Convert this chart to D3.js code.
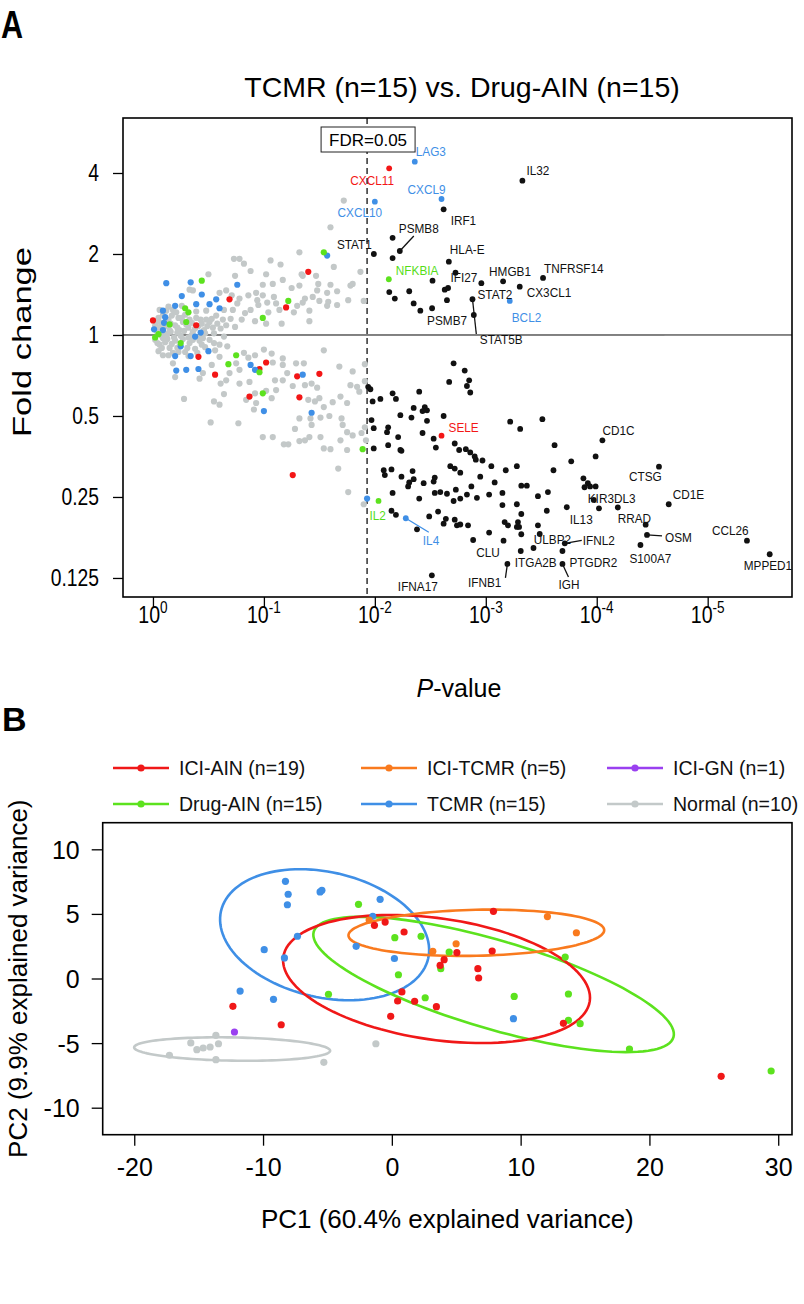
<!DOCTYPE html>
<html><head><meta charset="utf-8">
<script src="https://cdn.jsdelivr.net/npm/d3@7"></script>
<style>body{margin:0;background:#fff}</style>
</head><body><svg id="c" width="804" height="1304" xmlns="http://www.w3.org/2000/svg"></svg>
<script>
// ================= DATA: Panel A (volcano) — x = -log10(P), y = log2(fold change) =================
const fcTickVals = [2, 1, 0, -1, -2, -3];
const fcTickLabels = ["4", "2", "1", "0.5", "0.25", "0.125"];
const pTickExps = [0, -1, -2, -3, -4, -5];
const fdrNlp = 1.93;          // FDR = 0.05 threshold in -log10(P)
const hlineGrayEnd = 4.61;

const grayA = [
[1.72,1.66],[1.60,1.33],[1.32,1.02],[0.73,0.94],[0.78,0.94],[0.82,0.88],[1.06,0.92],[1.15,0.87],[1.63,0.84],[1.87,0.78],
[0.50,0.75],[0.74,0.73],[0.88,0.79],[1.02,0.75],[1.17,0.68],[1.34,0.75],[1.35,0.73],[1.47,0.73],[1.49,0.63],[1.60,0.62],
[1.32,0.61],[1.25,0.58],[0.99,0.62],[1.08,0.63],[1.78,0.61],[1.80,0.63],[1.48,0.55],[1.57,0.52],[1.66,0.54],[1.90,0.42],
[1.76,0.43],[1.66,0.37],[1.58,0.41],[1.57,0.36],[1.44,0.47],[1.50,0.42],[1.37,0.45],[1.35,0.40],[1.41,0.30],[1.41,0.17],
[1.27,0.28],[1.30,0.36],[1.14,0.31],[1.11,0.39],[1.03,0.40],[1.04,0.28],[0.95,0.37],[0.88,0.31],[0.80,0.19],[0.72,0.31],
[0.66,0.55],[0.60,0.52],[0.93,0.52],[0.86,0.49],[0.99,0.49],[1.09,0.47],[0.71,0.49],[0.78,0.45],[0.94,0.43],[0.76,0.39],
[0.64,0.31],[0.57,0.24],[0.48,0.30],[0.39,0.29],[0.18,0.31],[0.14,0.35],[0.33,0.56],[0.36,0.55],[0.48,0.19],[0.63,0.19],
[0.83,0.27],[0.92,0.17],[1.02,0.14],[1.16,0.14],[0.74,0.10],[0.55,0.02],[0.64,-0.02],
[0.02,0.12],[0.05,0.21],[0.06,0.09],[0.09,0.25],[0.11,0.11],[0.14,0.19],[0.15,0.06],[0.17,0.24],[0.20,0.12],[0.23,0.21],
[0.24,0.06],[0.27,0.16],[0.29,0.25],[0.32,0.09],[0.33,0.19],[0.36,0.04],[0.39,0.21],[0.41,0.11],[0.43,0.19],[0.46,0.06],
[0.49,0.11],[0.51,0.16],[0.54,0.09],[0.58,0.14],[0.04,0.03],[0.08,-0.01],[0.13,0.01],[0.19,-0.03],[0.25,-0.01],[0.32,-0.03],
[0.41,-0.03],[0.21,0.28],[0.26,0.36],[0.06,0.31],
[0.03,0.17],[0.07,0.15],[0.12,0.30],[0.16,0.14],[0.22,0.09],[0.26,0.21],[0.30,0.13],[0.35,0.15],[0.38,0.08],[0.44,0.14],
[0.10,0.02],[0.16,0.04],[0.22,0.03],[0.28,0.05],[0.35,0.00],[0.47,0.02],[0.53,0.20],[0.61,0.08],[0.66,0.12],[0.70,0.20],
[0.02,-0.06],[0.06,-0.12],[0.11,-0.09],[0.15,-0.16],[0.20,-0.07],[0.24,-0.14],[0.29,-0.21],[0.33,-0.10],[0.38,-0.17],[0.42,-0.07],
[0.47,-0.15],[0.51,-0.06],[0.05,-0.20],[0.14,-0.25],[0.23,-0.21],[0.32,-0.26],[0.09,-0.04],[0.18,-0.22],[0.56,-0.19],[0.60,-0.12],
[0.04,-0.10],[0.08,-0.16],[0.13,-0.05],[0.17,-0.11],[0.22,-0.16],[0.27,-0.05],[0.31,-0.16],[0.36,-0.06],[0.40,-0.22],[0.45,-0.04],
[0.28,-0.79],[0.52,-1.08],[0.77,-1.09],[0.55,-0.82],[0.60,-0.86],[0.64,-0.73],[0.61,-0.60],[0.20,-0.52],[0.09,-0.25],[0.18,-0.35],
[0.44,-0.12],[0.55,-0.10],[0.67,-0.14],[0.60,-0.27],[0.53,-0.37],[0.45,-0.47],[0.42,-0.54],[0.69,-0.47],[0.66,-0.56],[0.82,-0.22],
[0.86,-0.28],[0.92,-0.25],[1.00,-0.18],[1.07,-0.23],[1.08,-0.34],[1.17,-0.29],[1.17,-0.37],[1.21,-0.47],[1.29,-0.35],[1.36,-0.35],
[1.54,-0.19],[1.68,-0.39],[1.80,-0.45],[1.91,-0.36],[1.91,-0.57],[1.78,-0.62],[1.84,-0.64],[1.86,-0.70],[1.75,-0.84],[1.69,-0.76],
[1.62,-0.83],[1.54,-0.89],[1.46,-0.82],[1.50,-0.78],[1.40,-0.80],[1.43,-0.60],[1.48,-0.65],[1.37,-0.62],[1.26,-0.63],[1.17,-0.56],
[1.10,-0.56],[1.11,-0.68],[1.07,-0.78],[1.02,-0.69],[0.92,-0.72],[0.93,-0.84],[0.91,-0.92],[0.84,-0.80],[0.78,-0.60],[0.87,-0.58],
[0.78,-0.43],[0.75,-0.35],[1.32,-1.03],[1.42,-1.03],[1.43,-1.11],[1.51,-1.02],[1.59,-1.00],[1.70,-1.03],[1.71,-1.11],[1.75,-1.20],
[1.80,-1.24],[1.88,-1.21],[1.91,-1.14],[1.92,-1.30],[1.69,-1.30],[1.51,-1.26],[1.41,-1.26],[1.37,-1.30],[1.32,-1.31],[1.18,-1.35],
[1.22,-1.35],[1.28,-1.16],[1.08,-1.26],[0.99,-1.26],[1.54,-1.40],[1.60,-1.41],[1.75,-1.42],[1.67,-1.65],[1.76,-1.94],[1.90,-2.09]
];
const blackA = [
[2.16,1.20],[2.16,0.95],[2.52,0.67],[2.31,0.54],[2.13,0.53],[2.18,0.45],[2.35,0.39],[2.41,0.30],[2.63,0.56],[2.66,0.58],[2.65,0.43],[2.96,0.64],
[2.71,-0.35],[2.81,-0.44],[2.67,-0.58],[2.85,-0.56],[2.83,-0.63],[2.86,-0.71],[2.40,-0.70],[2.16,-0.72],[2.19,-0.79],[2.05,-0.79],[1.98,-0.82],[1.96,-0.67],[1.94,-0.64],
[2.35,-0.90],[2.45,-0.89],[2.47,-0.93],[2.43,-0.94],[2.33,-1.02],[2.23,-0.99],[1.97,-1.05],[2.47,-1.06],[2.62,-1.00],[1.99,-1.15],[2.12,-1.14],[2.11,-1.20],[2.43,-1.21],[2.53,-1.28],[2.55,-1.39],[2.21,-1.26],[2.12,-1.36],[2.23,-1.42],[2.24,-1.43],[1.99,-1.40],
[2.72,-1.34],[2.76,-1.42],[2.82,-1.41],[2.86,-1.45],[2.90,-1.50],[2.91,-1.54],[2.97,-1.55],[3.05,-1.62],[3.18,-1.67],[3.28,-1.62],[3.22,-1.07],[3.31,-1.16],[3.51,-1.04],[3.62,-1.36],[3.77,-1.56],[3.61,-1.67],[3.99,-1.50],
[2.68,-1.62],[2.72,-1.65],[2.77,-1.70],[2.34,-1.68],[2.08,-1.67],[2.09,-1.73],[2.15,-1.66],[2.24,-1.75],[2.35,-1.78],[2.31,-1.82],[2.30,-1.87],[2.44,-1.83],[2.53,-1.81],[2.54,-1.76],[2.54,-1.95],[2.59,-1.94],[2.65,-1.96],[2.73,-1.91],[2.71,-2.05],[2.77,-2.02],[2.83,-1.97],[2.87,-1.87],[3.08,-1.82],[2.95,-1.75],[3.03,-1.97],[2.92,-2.01],[3.15,-1.95],[3.15,-2.10],[3.28,-2.09],[3.32,-1.86],[3.37,-1.86],[3.47,-1.99],[3.56,-1.94],[3.32,-2.21],[3.55,-2.17],[3.88,-1.77],[3.92,-1.83],[3.89,-1.88],[3.94,-1.87],[3.99,-1.87],[4.02,-2.14],[4.19,-2.13],
[2.16,-1.95],[2.40,-2.02],[2.15,-2.17],[2.19,-2.22],[2.38,-2.40],[2.49,-2.24],[2.57,-2.18],[2.64,-2.27],[2.62,-2.33],[2.72,-2.28],[2.74,-2.35],[2.77,-2.34],[2.84,-2.35],[3.03,-2.44],[3.16,-2.54],[3.17,-2.31],[3.20,-2.35],[3.29,-2.31],[3.28,-2.37],[3.30,-2.37],[3.32,-2.46],[3.47,-2.35],[3.43,-2.63]
];
const redA = [[1.40,0.78],[1.20,0.34],[0.69,0.44],[0.00,0.18],[0.39,0.12],[0.41,-0.27],[0.56,-0.49],[0.87,-0.76],[1.02,-0.34],[0.96,-0.42],[1.30,-0.51],[1.32,-0.77],[1.50,-0.48],[1.26,-1.73]];
const blueA = [[1.57,0.98],[0.34,0.65],[0.12,0.64],[0.76,0.62],[0.26,0.48],[0.20,0.36],[0.39,0.38],[0.44,0.50],[0.51,0.38],[0.57,0.44],[0.60,0.33],[0.09,0.30],[0.11,0.22],[0.10,0.15],[0.01,0.07],[0.09,0.06],[0.38,-0.02],[0.43,0.03],[0.20,-0.26],[0.34,-0.26],[0.21,-0.44],[0.30,-0.43],[0.41,-0.42],[0.50,-0.20],[0.88,-0.37],[0.92,-0.43],[1.00,-0.94],[1.35,-0.49],[1.43,-0.96],[1.93,-2.02],[0.25,-0.14]];
const greenA = [[1.54,1.02],[1.22,0.42],[0.99,0.21],[0.44,0.67],[0.29,0.33],[0.32,0.28],[0.15,0.13],[0.30,0.16],[0.05,0.01],[0.02,-0.03],[0.25,-0.10],[0.75,-0.25],[0.68,-0.36],[0.96,-0.46],[0.99,-0.72],[1.89,-1.41]];

const geneNames = ["IL32","IRF1","PSMB8","STAT1","HLA-E","IFI27","HMGB1","TNFRSF14","CX3CL1","STAT2","STAT5B","PSMB7","BCL2","LAG3","CXCL11","CXCL9","CXCL10","NFKBIA","SELE","IL2","IL4","CD1C","CTSG","CD1E","KIR3DL3","IL13","RRAD","OSM","S100A7","CCL26","MPPED1","ULBP2","IFNL2","CLU","ITGA2B","IFNB1","PTGDR2","IGH","IFNA17"];
const geneGroup = ["sig","sig","sig","sig","sig","sig","sig","sig","sig","sig","sig","sig","blue","blue","red","blue","blue","green","red","green","blue","sig","sig","sig","sig","sig","sig","sig","sig","sig","sig","sig","sig","sig","sig","sig","sig","sig","sig"];
const geneNlp = [3.33,2.62,2.225,1.991,2.667,2.727,3.156,3.516,3.306,2.88,2.892,2.516,3.216,2.36,2.129,2.601,2.0,2.126,2.601,2.033,2.279,4.051,4.561,4.649,3.973,3.73,4.441,4.453,4.394,5.354,5.559,3.486,3.712,2.886,3.315,3.195,3.691,3.691,2.514];
const geneLog2FC = [1.905,1.552,1.037,1.0,0.905,0.769,0.663,0.704,0.596,0.441,0.247,0.33,0.42,2.14,2.058,1.679,1.646,0.688,-1.243,-2.049,-2.263,-1.3,-1.626,-2.09,-2.037,-2.127,-2.342,-2.469,-2.593,-2.54,-2.707,-2.457,-2.572,-2.531,-2.667,-2.827,-2.667,-2.827,-2.967];

// ================= DATA: Panel B (PCA) — [PC1, PC2] =================
const pcaGroups = ["ICI-AIN (n=19)","ICI-TCMR (n=5)","ICI-GN (n=1)","Drug-AIN (n=15)","TCMR (n=15)","Normal (n=10)"];
const pcaNormal = [[-13.66,-4.40],[-15.61,-4.99],[-15.14,-5.51],[-14.11,-5.30],[-13.46,-5.05],[-17.27,-5.94],[-13.66,-6.28],[-5.28,-6.49],[-1.24,-5.05],[-14.65,-5.38]];
const pcaGN = [[-12.22,-4.14]];
const pcaTCMR = [[-8.26,7.52],[-8.05,6.52],[-8.11,5.71],[-5.57,6.70],[-5.43,6.83],[-0.91,6.13],[-1.48,4.81],[-7.33,3.27],[-9.91,2.23],[-8.34,1.59],[-2.77,2.49],[0.20,1.55],[-11.78,-0.97],[-9.19,-1.61],[9.44,-3.11]];
const pcaDrug = [[-2.59,5.74],[0.23,3.16],[2.27,3.27],[4.45,2.05],[3.80,0.76],[0.51,0.29],[2.59,-1.49],[9.50,-1.39],[13.71,-1.20],[13.46,1.66],[13.71,-3.24],[14.62,-3.50],[18.45,-5.46],[-4.92,-1.22],[29.45,-7.16]];
const pcaICITCMR = [[3.18,2.11],[4.99,2.69],[12.08,4.79],[14.33,3.54],[-1.76,4.53]];
const pcaICIAIN = [[-1.35,4.12],[-0.52,4.37],[0.95,3.60],[7.89,5.20],[5.05,2.01],[4.06,1.46],[3.75,1.01],[6.68,0.76],[6.74,0.04],[7.79,2.13],[0.78,-1.04],[0.45,-1.74],[1.77,-1.76],[-0.09,-2.93],[3.46,-2.18],[13.32,-3.47],[-12.34,-2.15],[-8.59,-3.58],[25.57,-7.57]];
// confidence ellipses: [centerPC1, centerPC2, semi-major, semi-minor, angle(deg)]
const ellNormal = [-12.4,-5.46,7.61,0.9,-1];
const ellTCMR = [-5.22,3.39,8.25,4.85,-12.8];
const ellICITCMR = [6.56,3.54,9.93,1.78,1.2];
const ellICIAIN = [3.47,-0.04,12.02,4.7,-8.2];
const ellDrug = [7.9,-0.46,14.55,3.42,-16.3];
const pcaXTicks = [-20,-10,0,10,20,30];
const pcaYTicks = [10,5,0,-5,-10];

// ================= STYLE / LAYOUT =================
const FONT = '"Liberation Sans", Arial, Helvetica, sans-serif';
const colA = {gray:"#c3c8c8", sig:"#111111", red:"#f31616", blue:"#3f8fe6", green:"#5ce21e"};
const labelColA = {sig:"#111111", red:"#f31616", blue:"#3f8fe6", green:"#55dd18"};
const colB = {red:"#f01818", orange:"#f97a1e", purple:"#9a40f0", green:"#5ce21e", blue:"#3f8fe6", gray:"#c3c9c9"};

const labelPos = {
IL32:[4,-10,"start"], IRF1:[7,11,"start"], PSMB8:[-1,-23,"start"], STAT1:[-2,-10,"end"], "HLA-E":[1,-12,"start"],
IFI27:[-5,5,"start"], HMGB1:[-14,-10,"start"], TNFRSF14:[1,-10,"start"], CX3CL1:[7,6,"start"], STAT2:[5,-5,"start"],
STAT5B:[6,24,"start"], PSMB7:[-5,12,"start"], BCL2:[2,16,"start"], LAG3:[1,-10,"start"], CXCL11:[-17,12,"middle"],
CXCL9:[-15,-10,"middle"], CXCL10:[-15,11,"middle"], NFKBIA:[7,-9,"start"], SELE:[7,-8,"start"], IL2:[-9,14,"start"],
IL4:[17,22,"start"], CD1C:[0,-10,"start"], CTSG:[-30,10,"start"], CD1E:[4,-10,"start"], KIR3DL3:[-6,-2,"start"],
IL13:[3,12,"start"], RRAD:[-28,-6,"start"], OSM:[18,2,"start"], S100A7:[-11,13,"start"], CCL26:[-35,-10,"start"],
MPPED1:[-26,11,"start"], ULBP2:[-6,5,"start"], IFNL2:[18,-3,"start"], CLU:[3,12,"start"], ITGA2B:[-6,11,"start"],
IFNB1:[-6,18,"end"], PTGDR2:[7,11,"start"], IGH:[-4,20,"start"], IFNA17:[-34,11,"start"]
};
const leaders = {PSMB8:[0,0,14,-15], STAT5B:[-1.3,-15.7,2.5,19], IL4:[0,0,23,14], OSM:[0,0,15,1], IFNL2:[0,0,17,-3], IFNB1:[0,0,-2,14], IGH:[0,0,6,13]};

const svg = d3.select("#c");
svg.append("rect").attr("width",804).attr("height",1304).attr("fill","#fff");

// ================= PANEL A =================
const A = {l:123, r:792, t:118, b:597};
const xA = d3.scaleLinear().domain([-0.27, 5.76]).range([A.l, A.r]);
const yA = d3.scaleLinear().domain([-3.235, 2.679]).range([A.b, A.t]);
const gA = svg.append("g");

svg.append("text").attr("transform","translate(1,38) scale(0.85,1.1)").attr("font-family",FONT).attr("font-weight","bold").attr("font-size",36).text("A");
svg.append("text").attr("x",462).attr("y",97).attr("text-anchor","middle").attr("font-family",FONT).attr("font-size",28.5)
  .text("TCMR (n=15) vs. Drug-AIN (n=15)");

// reference lines
gA.append("line").attr("x1",A.l).attr("x2",A.r).attr("y1",yA(0)).attr("y2",yA(0)).attr("stroke","#111").attr("stroke-width",1);
gA.append("line").attr("x1",A.l).attr("x2",xA(hlineGrayEnd)).attr("y1",yA(0)).attr("y2",yA(0)).attr("stroke","#808080").attr("stroke-width",1.6);
gA.append("line").attr("x1",xA(fdrNlp)).attr("x2",xA(fdrNlp)).attr("y1",A.t).attr("y2",A.b).attr("stroke","#111").attr("stroke-width",1.3).attr("stroke-dasharray","6,4");

const RA = 3.1;
function dots(g, data, color, r){
  g.append("g").selectAll("circle").data(data).join("circle")
    .attr("cx", d=>xA(d[0])).attr("cy", d=>yA(d[1])).attr("r", r).attr("fill", color);
}
dots(gA, grayA, colA.gray, RA);
dots(gA, redA, colA.red, RA);
dots(gA, blueA, colA.blue, RA);
dots(gA, greenA, colA.green, RA);
dots(gA, blackA, colA.sig, 2.9);

const genes = geneNames.map((n,i)=>({name:n, grp:geneGroup[i], x:geneNlp[i], y:geneLog2FC[i]}));
gA.append("g").selectAll("line").data(genes.filter(g=>leaders[g.name])).join("line")
  .attr("x1", d=>xA(d.x)+leaders[d.name][0]).attr("y1", d=>yA(d.y)+leaders[d.name][1])
  .attr("x2", d=>xA(d.x)+leaders[d.name][2]).attr("y2", d=>yA(d.y)+leaders[d.name][3])
  .attr("stroke", d=>colA[d.grp]).attr("stroke-width",1.3);
gA.append("g").selectAll("circle").data(genes).join("circle")
  .attr("cx", d=>xA(d.x)).attr("cy", d=>yA(d.y)).attr("r",2.9).attr("fill", d=>colA[d.grp]);
gA.append("g").selectAll("text").data(genes).join("text")
  .attr("transform", d=>`translate(${xA(d.x)+labelPos[d.name][0]},${yA(d.y)+labelPos[d.name][1]+4.6}) scale(1,1.1)`)
  .attr("text-anchor", d=>labelPos[d.name][2]).attr("font-family",FONT).attr("font-size",11.8)
  .attr("fill", d=>labelColA[d.grp]).text(d=>d.name);

// FDR box
gA.append("rect").attr("x",xA(fdrNlp)-46).attr("y",127).attr("width",94).attr("height",25).attr("fill","#fff").attr("stroke","#222").attr("stroke-width",1);
gA.append("text").attr("x",xA(fdrNlp)+1).attr("y",146).attr("text-anchor","middle").attr("font-family",FONT).attr("font-size",17).text("FDR=0.05");

// frame
gA.append("rect").attr("x",A.l).attr("y",A.t).attr("width",A.r-A.l).attr("height",A.b-A.t).attr("fill","none").attr("stroke","#000").attr("stroke-width",1.6);

// axes
const ayA = gA.append("g").attr("transform",`translate(${A.l},0)`)
  .call(d3.axisLeft(yA).tickValues(fcTickVals).tickFormat("").tickSize(10));
ayA.select(".domain").remove();
ayA.selectAll("line").attr("stroke-width",1.3);
gA.append("g").selectAll("text").data(fcTickVals).join("text")
  .attr("transform",(v)=>`translate(${A.l-24},${yA(v)+8}) scale(0.84,1)`)
  .attr("text-anchor","end").attr("font-family",FONT).attr("font-size",23)
  .text((v,i)=>fcTickLabels[i]);

const axA = gA.append("g").attr("transform",`translate(0,${A.b})`)
  .call(d3.axisBottom(xA).tickValues(pTickExps.map(e=>-e)).tickFormat("").tickSize(10));
axA.select(".domain").remove();
axA.selectAll("line").attr("stroke-width",1.3);
const xl = gA.append("g").selectAll("text").data(pTickExps).join("text")
  .attr("transform", e=>`translate(${xA(-e)},623) scale(0.85,1)`).attr("text-anchor","middle").attr("font-family",FONT).attr("font-size",23);
xl.append("tspan").text("10");
xl.append("tspan").attr("dy",-10).attr("font-size",16).text(e=>String(e));

const pv = svg.append("text").attr("x",459).attr("y",697).attr("text-anchor","middle").attr("font-family",FONT).attr("font-size",25);
pv.append("tspan").attr("font-style","italic").text("P");
pv.append("tspan").text("-value");
svg.append("text").attr("transform",`translate(31,342) rotate(-90)`).attr("text-anchor","middle")
  .attr("font-family",FONT).attr("font-size",25).attr("textLength",190).attr("lengthAdjust","spacingAndGlyphs").text("Fold change");

// ================= PANEL B =================
const B = {l:102.7, r:792, t:822.7, b:1134.7};
const xB = d3.scaleLinear().domain([-22.45, 31.07]).range([B.l, B.r]);
const yB = d3.scaleLinear().domain([-12.09, 12.06]).range([B.b, B.t]);
const gB = svg.append("g");

svg.append("text").attr("x",2).attr("y",731).attr("font-family",FONT).attr("font-weight","bold").attr("font-size",34).text("B");

// legend
const legendCols = [113, 361, 607];
const legendRows = [768, 804];
const legendColors = [colB.red, colB.orange, colB.purple, colB.green, colB.blue, colB.gray];
const lg = gB.append("g").selectAll("g").data(pcaGroups).join("g")
  .attr("transform",(d,i)=>`translate(${legendCols[i%3]},${legendRows[Math.floor(i/3)]})`);
lg.append("line").attr("x1",0).attr("x2",56).attr("y1",0).attr("y2",0).attr("stroke",(d,i)=>legendColors[i]).attr("stroke-width",2.6);
lg.append("circle").attr("cx",28).attr("cy",0).attr("r",3.6).attr("fill",(d,i)=>legendColors[i]);
lg.append("text").attr("x",66).attr("y",7).attr("font-family",FONT).attr("font-size",19.5).attr("fill","#111").text(d=>d);

// ellipses
function ellipsePts(e){
  const [cx,cy,a,b,ang] = e, phi = ang*Math.PI/180;
  return d3.range(0, 361, 3).map(t=>{
    const tt = t*Math.PI/180;
    return [cx + a*Math.cos(tt)*Math.cos(phi) - b*Math.sin(tt)*Math.sin(phi),
            cy + a*Math.cos(tt)*Math.sin(phi) + b*Math.sin(tt)*Math.cos(phi)];
  });
}
const lineB = d3.line().x(d=>xB(d[0])).y(d=>yB(d[1])).curve(d3.curveLinearClosed);
[[ellNormal,colB.gray],[ellTCMR,colB.blue],[ellDrug,colB.green],[ellICIAIN,colB.red],[ellICITCMR,colB.orange]].forEach(([e,c])=>{
  gB.append("path").attr("d", lineB(ellipsePts(e))).attr("fill","none").attr("stroke",c).attr("stroke-width",2.6);
});
function dotsB(data, color){
  gB.append("g").selectAll("circle").data(data).join("circle")
    .attr("cx", d=>xB(d[0])).attr("cy", d=>yB(d[1])).attr("r",3.6).attr("fill",color);
}
dotsB(pcaNormal, colB.gray);
dotsB(pcaGN, colB.purple);
dotsB(pcaTCMR, colB.blue);
dotsB(pcaDrug, colB.green);
dotsB(pcaICITCMR, colB.orange);
dotsB(pcaICIAIN, colB.red);

gB.append("rect").attr("x",B.l).attr("y",B.t).attr("width",B.r-B.l).attr("height",B.b-B.t).attr("fill","none").attr("stroke","#000").attr("stroke-width",1.6);

const ayB = gB.append("g").attr("transform",`translate(${B.l},0)`)
  .call(d3.axisLeft(yB).tickValues(pcaYTicks).tickFormat(d=>String(d)).tickSize(11).tickPadding(12));
ayB.select(".domain").remove();
ayB.attr("font-family",FONT).attr("font-size",25);
ayB.selectAll("line").attr("stroke-width",1.3);
ayB.selectAll("text").attr("dy","0.36em");
const axB = gB.append("g").attr("transform",`translate(0,${B.b})`)
  .call(d3.axisBottom(xB).tickValues(pcaXTicks).tickFormat(d=>String(d)).tickSize(11).tickPadding(13));
axB.select(".domain").remove();
axB.attr("font-family",FONT).attr("font-size",25);
axB.selectAll("line").attr("stroke-width",1.3);

svg.append("text").attr("x",(B.l+B.r)/2).attr("y",1228).attr("text-anchor","middle").attr("font-family",FONT).attr("font-size",26)
  .text("PC1 (60.4% explained variance)");
svg.append("text").attr("transform",`translate(27,${(B.t+B.b)/2}) rotate(-90)`).attr("text-anchor","middle")
  .attr("font-family",FONT).attr("font-size",26).text("PC2 (9.9% explained variance)");
</script></body></html>
